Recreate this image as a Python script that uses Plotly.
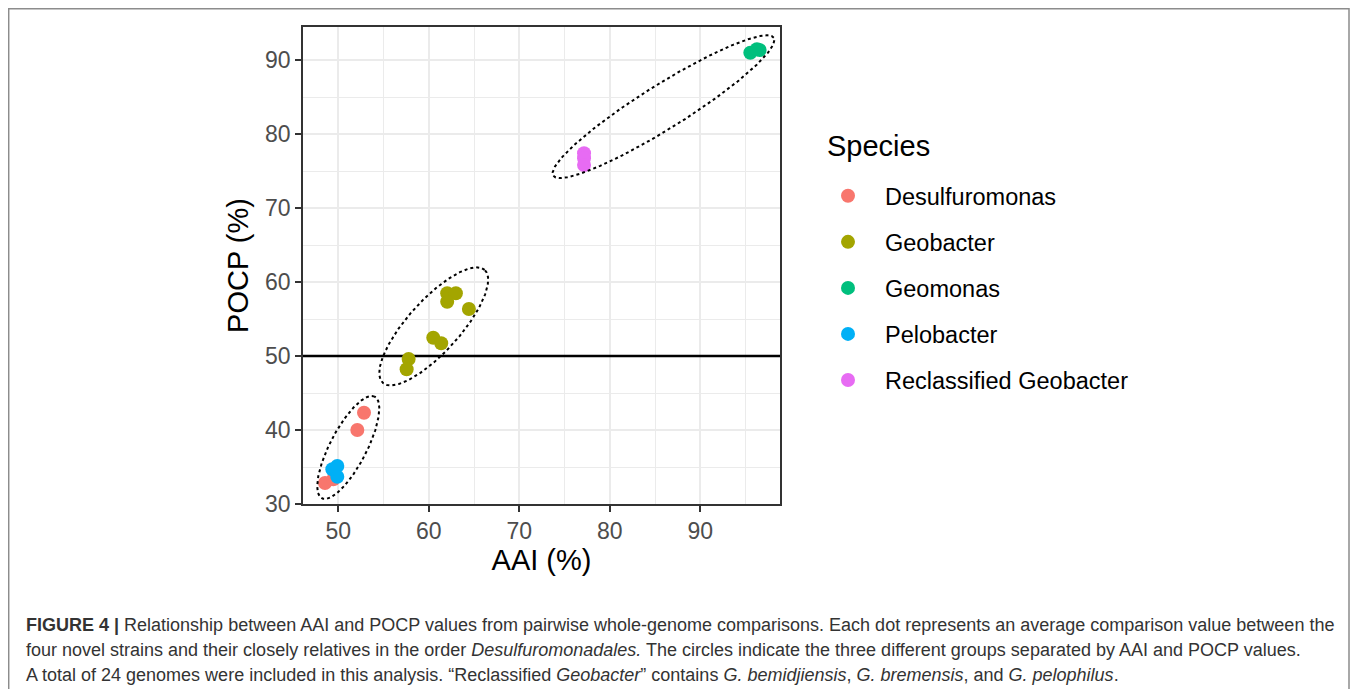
import numpy as np
import plotly.graph_objects as go

# ---------------- data ----------------
species = ["Desulfuromonas", "Geobacter", "Geomonas", "Pelobacter", "Reclassified Geobacter"]
colors = ["#F8766D", "#A3A500", "#00BF7D", "#00B0F6", "#E76BF3"]

desulfuromonas_aai = [48.53, 49.45, 52.10, 52.84]
desulfuromonas_pocp = [32.84, 33.34, 40.00, 42.34]
geobacter_aai = [62.03, 62.99, 62.03, 64.43, 60.49, 61.37, 57.77, 57.55]
geobacter_pocp = [58.47, 58.47, 57.34, 56.35, 52.47, 51.72, 49.59, 48.20]
geomonas_aai = [95.52, 96.25, 96.55]
geomonas_pocp = [90.99, 91.45, 91.35]
pelobacter_aai = [49.34, 49.89, 49.89]
pelobacter_pocp = [34.69, 35.14, 33.69]
reclassified_aai = [77.15, 77.15, 77.15]
reclassified_pocp = [77.39, 76.72, 75.81]

series_aai = [desulfuromonas_aai, geobacter_aai, geomonas_aai, pelobacter_aai, reclassified_aai]
series_pocp = [desulfuromonas_pocp, geobacter_pocp, geomonas_pocp, pelobacter_pocp, reclassified_pocp]

x_ticks = [50, 60, 70, 80, 90]
y_ticks = [30, 40, 50, 60, 70, 80, 90]
threshold_pocp = 50

# group ellipses: centre (data units), semi-axes (px), angle (deg)
ellipse_cx = [51.10, 60.54, 85.93]
ellipse_cy = [37.64, 54.01, 83.69]
ellipse_a = [57.3, 76.0, 130.0]
ellipse_b = [18.3, 26.0, 22.0]
ellipse_angle = [62.5, 47.9, 32.0]

# ---------------- layout geometry ----------------
# (the page body adds an 8 px offset, so target pixel positions are reduced by 8)
OFF = 8
W, H = 1360, 689
L, T = 303 - OFF, 27 - OFF
R = W - (780 - OFF)
B = H - (504 - OFF)
x_range = [46.1, 98.8]
y_range = [30.0, 94.46]
plot_w = W - L - R
plot_h = H - T - B
ppx = plot_w / (x_range[1] - x_range[0])
ppy = plot_h / (y_range[1] - y_range[0])

def px2paper_x(px):
    return (px - OFF - L) / plot_w

def px2paper_y(py):
    return (H - B - (py - OFF)) / plot_h

fig = go.Figure()

# threshold line (drawn beneath the points)
fig.add_trace(go.Scatter(
    x=x_range, y=[threshold_pocp, threshold_pocp], mode="lines", showlegend=False,
    hoverinfo="skip", line=dict(color="black", width=2.5),
))

for name, col, xs, ys in zip(species, colors, series_aai, series_pocp):
    fig.add_trace(go.Scatter(
        x=xs, y=ys, mode="markers", name=name, legendgroup=name,
        marker=dict(color=col, size=14, line=dict(width=0)),
    ))

t = np.linspace(0, 2 * np.pi, 400)
for cx, cy, a, b, ang in zip(ellipse_cx, ellipse_cy, ellipse_a, ellipse_b, ellipse_angle):
    th = np.deg2rad(ang)
    dx = a * np.cos(t) * np.cos(th) - b * np.sin(t) * np.sin(th)
    dy = a * np.cos(t) * np.sin(th) + b * np.sin(t) * np.cos(th)
    fig.add_trace(go.Scatter(
        x=cx + dx / ppx, y=cy + dy / ppy, mode="lines", showlegend=False,
        hoverinfo="skip", line=dict(color="black", width=2, dash="dot"),
    ))

# figure frame
fig.add_shape(type="path", xref="paper", yref="paper",
              path=f"M {px2paper_x(8.7)} {px2paper_y(760)} L {px2paper_x(8.7)} {px2paper_y(8.7)} "
                   f"L {px2paper_x(1349)} {px2paper_y(8.7)} L {px2paper_x(1349)} {px2paper_y(760)}",
              line=dict(color="#8c8c8c", width=1.5), layer="above")

font_main = "Liberation Sans, Arial, Helvetica, sans-serif"

axis_common = dict(
    showline=True, mirror=True, linecolor="#333333", linewidth=1.5,
    ticks="outside", ticklen=6, tickwidth=1.8, tickcolor="#333333",
    tickfont=dict(family=font_main, size=23, color="#4D4D4D"),
    showgrid=True, gridcolor="#EBEBEB", gridwidth=2,
    minor=dict(showgrid=True, gridcolor="#EBEBEB", gridwidth=1.2, ticks=""),
    zeroline=False,
)

fig.update_xaxes(range=x_range, tickvals=x_ticks,
                 minor_tickvals=[45, 55, 65, 75, 85, 95],
                 title=dict(text="AAI (%)", font=dict(family=font_main, size=29, color="black"), standoff=4),
                 **axis_common)
fig.update_yaxes(range=y_range, tickvals=y_ticks,
                 minor_tickvals=[35, 45, 55, 65, 75, 85],
                 title=dict(text="POCP (%)", font=dict(family=font_main, size=29, color="black"), standoff=8),
                 **axis_common)

cap_font = dict(family=font_main, size=18, color="#333333")
caption_lines = [
    "<b>FIGURE 4 |</b> Relationship between AAI and POCP values from pairwise whole-genome comparisons. Each dot represents an average comparison value between the",
    "four novel strains and their closely relatives in the order <i>Desulfuromonadales.</i> The circles indicate the three different groups separated by AAI and POCP values.",
    "A total of 24 genomes were included in this analysis. \u201cReclassified <i>Geobacter</i>\u201d contains <i>G. bemidjiensis</i>, <i>G. bremensis</i>, and <i>G. pelophilus</i>.",
]
caption_y = [625, 650, 675]
for line, yy in zip(caption_lines, caption_y):
    fig.add_annotation(text=line, xref="paper", yref="paper",
                       x=px2paper_x(24), y=px2paper_y(yy), xanchor="left", yanchor="middle",
                       showarrow=False, font=cap_font, align="left")

# legend title
fig.add_annotation(text="Species", xref="paper", yref="paper",
                   x=px2paper_x(825), y=px2paper_y(146), xanchor="left", yanchor="middle",
                   showarrow=False, font=dict(family=font_main, size=29, color="black"))

fig.update_layout(
    width=W, height=H,
    margin=dict(l=L, r=R, t=T, b=B),
    paper_bgcolor="white", plot_bgcolor="white",
    showlegend=True,
    legend=dict(
        x=px2paper_x(811), y=px2paper_y(174), xanchor="left", yanchor="top",
        font=dict(family=font_main, size=23.5, color="black"),
        traceorder="grouped", tracegroupgap=12.5, itemwidth=64,
        bgcolor="rgba(0,0,0,0)",
    ),
)

fig.write_html("out.html")
